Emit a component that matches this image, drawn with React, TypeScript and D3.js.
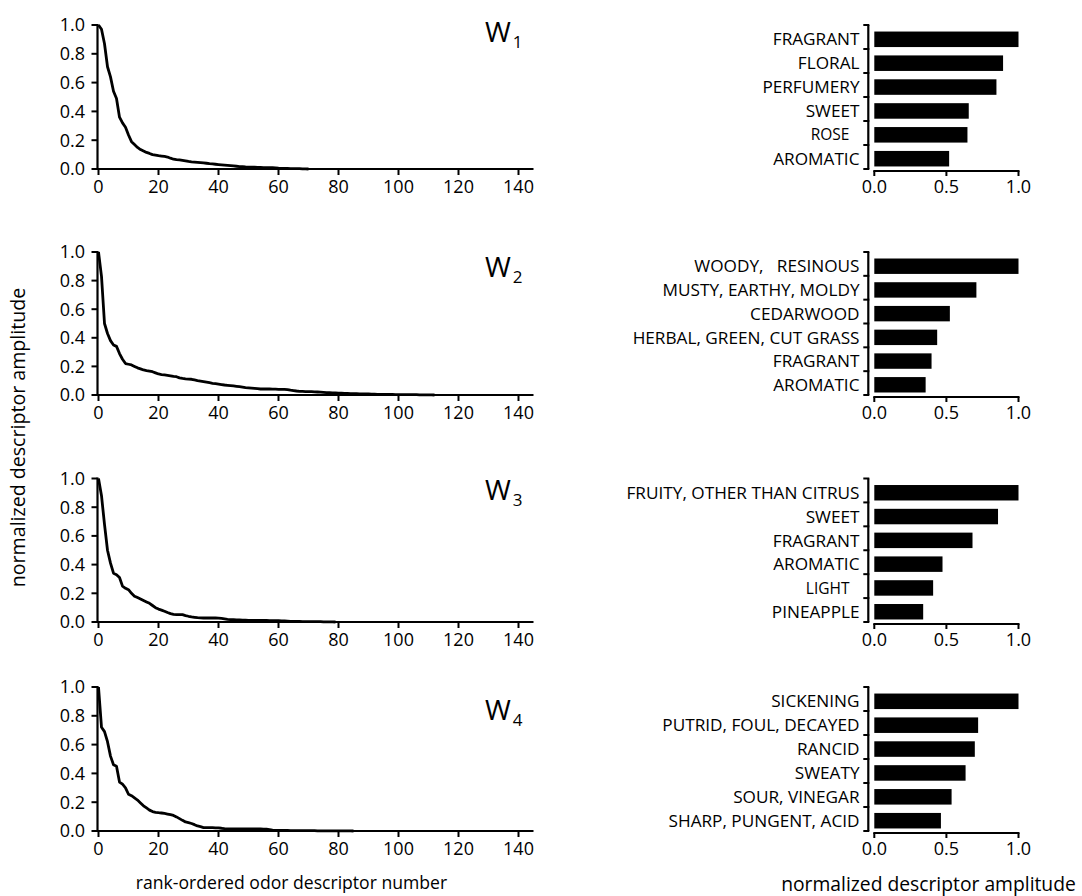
import React from "react";
import * as d3 from "d3";

// ---------- data ----------
const W_SUBSCRIPTS = ["1", "2", "3", "4"];

const CURVE_W1 = [
  1.0, 0.97, 0.87, 0.71, 0.64, 0.54, 0.49, 0.36, 0.32, 0.29, 0.236, 0.19, 0.17, 0.15, 0.135, 0.125,
  0.115, 0.108, 0.1, 0.097, 0.093, 0.09, 0.087, 0.083, 0.075, 0.068, 0.065, 0.063, 0.06, 0.057, 0.053,
  0.05, 0.048, 0.046, 0.044, 0.042, 0.04, 0.037, 0.035, 0.033, 0.031, 0.029, 0.027, 0.025, 0.023, 0.021,
  0.019, 0.017, 0.016, 0.014, 0.013, 0.012, 0.012, 0.011, 0.011, 0.01, 0.01, 0.009, 0.009, 0.008, 0.006,
  0.005, 0.004, 0.004, 0.003, 0.003, 0.002, 0.002, 0.001, 0.001, 0.0,
];

const CURVE_W2 = [
  1.0, 0.83, 0.5, 0.43, 0.38, 0.35, 0.34, 0.29, 0.25, 0.22, 0.215, 0.21, 0.2, 0.19, 0.183, 0.175, 0.17,
  0.167, 0.163, 0.155, 0.147, 0.143, 0.14, 0.137, 0.134, 0.13, 0.128, 0.12, 0.116, 0.113, 0.111, 0.11,
  0.105, 0.1, 0.097, 0.094, 0.09, 0.086, 0.082, 0.079, 0.076, 0.073, 0.07, 0.068, 0.066, 0.064, 0.061,
  0.058, 0.055, 0.052, 0.05, 0.048, 0.046, 0.044, 0.042, 0.042, 0.042, 0.042, 0.041, 0.041, 0.04, 0.04,
  0.04, 0.038, 0.034, 0.031, 0.028, 0.026, 0.025, 0.024, 0.023, 0.023, 0.022, 0.021, 0.02, 0.019, 0.017,
  0.016, 0.015, 0.014, 0.013, 0.013, 0.012, 0.011, 0.01, 0.009, 0.009, 0.008, 0.008, 0.007, 0.007, 0.006,
  0.006, 0.005, 0.005, 0.005, 0.004, 0.004, 0.004, 0.003, 0.003, 0.003, 0.003, 0.002, 0.002, 0.002, 0.002,
  0.001, 0.001, 0.001, 0.001, 0.001, 0.0,
];

const CURVE_W3 = [
  1.0, 0.88, 0.68, 0.5, 0.41, 0.34, 0.33, 0.31, 0.25, 0.235, 0.225, 0.2, 0.18, 0.17, 0.16, 0.15, 0.14,
  0.13, 0.115, 0.1, 0.09, 0.083, 0.075, 0.066, 0.058, 0.053, 0.052, 0.052, 0.051, 0.045, 0.04, 0.036,
  0.033, 0.03, 0.029, 0.028, 0.028, 0.028, 0.028, 0.028, 0.027, 0.025, 0.022, 0.019, 0.017, 0.016, 0.015,
  0.014, 0.013, 0.013, 0.012, 0.012, 0.012, 0.012, 0.011, 0.011, 0.011, 0.01, 0.01, 0.01, 0.01, 0.008,
  0.007, 0.006, 0.005, 0.005, 0.004, 0.004, 0.003, 0.003, 0.003, 0.002, 0.002, 0.002, 0.002, 0.001, 0.001,
  0.001, 0.001, 0.0,
];

const CURVE_W4 = [
  1.0, 0.72, 0.69, 0.62, 0.52, 0.46, 0.45, 0.34, 0.325, 0.3, 0.255, 0.245, 0.23, 0.215, 0.195, 0.175, 0.16,
  0.145, 0.135, 0.13, 0.127, 0.125, 0.122, 0.118, 0.114, 0.108, 0.098, 0.086, 0.074, 0.063, 0.058, 0.052,
  0.044, 0.035, 0.03, 0.024, 0.023, 0.023, 0.023, 0.022, 0.021, 0.019, 0.016, 0.014, 0.014, 0.014, 0.014,
  0.014, 0.014, 0.014, 0.014, 0.014, 0.014, 0.014, 0.014, 0.013, 0.013, 0.01, 0.006, 0.005, 0.005, 0.004,
  0.004, 0.004, 0.003, 0.003, 0.003, 0.003, 0.002, 0.002, 0.002, 0.002, 0.002, 0.001, 0.001, 0.001, 0.001,
  0.001, 0.001, 0.001, 0.001, 0.001, 0.001, 0.0005, 0.0005, 0.0,
];

const DESC_W1 = ["FRAGRANT", "FLORAL", "PERFUMERY", "SWEET", "ROSE", "AROMATIC"];
const AMP_W1 = [1.0, 0.893, 0.847, 0.655, 0.646, 0.519];

const DESC_W2 = [
  "WOODY,   RESINOUS",
  "MUSTY, EARTHY, MOLDY",
  "CEDARWOOD",
  "HERBAL, GREEN, CUT GRASS",
  "FRAGRANT",
  "AROMATIC",
];
const AMP_W2 = [1.0, 0.708, 0.524, 0.436, 0.397, 0.356];

const DESC_W3 = ["FRUITY, OTHER THAN CITRUS", "SWEET", "FRAGRANT", "AROMATIC", "LIGHT", "PINEAPPLE"];
const AMP_W3 = [1.0, 0.858, 0.681, 0.473, 0.408, 0.339];

const DESC_W4 = [
  "SICKENING",
  "PUTRID, FOUL, DECAYED",
  "RANCID",
  "SWEATY",
  "SOUR, VINEGAR",
  "SHARP, PUNGENT, ACID",
];
const AMP_W4 = [1.0, 0.72, 0.697, 0.633, 0.536, 0.462];

const Y_TICKS = [0, 0.2, 0.4, 0.6, 0.8, 1.0];
const X_TICKS = [0, 20, 40, 60, 80, 100, 120, 140];
const BAR_TICKS = [0, 0.5, 1.0];

const CURVES = [CURVE_W1, CURVE_W2, CURVE_W3, CURVE_W4];
const DESCS = [DESC_W1, DESC_W2, DESC_W3, DESC_W4];
const AMPS = [AMP_W1, AMP_W2, AMP_W3, AMP_W4];

// ---------- layout / style ----------
const PANEL_TOP = [25, 252, 478.5, 687];
const PANEL_BOTTOM = [169, 395, 622, 831];
const W_BASELINE = [42, 277, 500, 720];
const SMALL_LABELS = new Set(["ROSE", "LIGHT"]);
const FONT = "'Open Sans', 'Noto Sans', sans-serif";
const FW = 500;

const fmt1 = d3.format(".1f");

function Panel({ i }: { i: number }) {
  const top = PANEL_TOP[i];
  const bottom = PANEL_BOTTOM[i];
  const y = d3.scaleLinear().domain([0, 1]).range([bottom, top]);
  const x = d3.scaleLinear().domain([0, 140]).range([98.5, 518.5]);
  const curve = CURVES[i];
  const line = d3
    .line<number>()
    .x((_, k) => x(k))
    .y((v) => y(v));

  // right bar chart
  const bx = d3.scaleLinear().domain([0, 1]).range([874.3, 1018.5]);
  const descs = DESCS[i];
  const amps = AMPS[i];
  const band = d3.scaleBand<string>().domain(descs).range([top + 2, bottom + 2]).paddingInner(0.35).paddingOuter(0.19);
  const bracket = d3.scaleBand<string>().domain(descs).range([top, bottom]).padding(0);
  const bracketTicks = [...descs.map((d) => bracket(d) as number), bottom];
  const axisX = 868.3;

  return (
    <g>
      {/* left line chart */}
      <line x1={x(0) - 1} x2={x(0) - 1} y1={top - 1} y2={bottom + 1} stroke="#000" strokeWidth={2.2} />
      <line x1={x(0) - 2} x2={x(145)} y1={bottom} y2={bottom} stroke="#000" strokeWidth={2.2} />
      {Y_TICKS.map((t) => (
        <g key={"yt" + t}>
          <line x1={x(0) - 7} x2={x(0) - 1} y1={y(t)} y2={y(t)} stroke="#000" strokeWidth={2} />
          <text x={85} y={y(t)} dy="0.35em" textAnchor="end" fontSize={18} fontWeight={FW} fontFamily={FONT}>
            {fmt1(t)}
          </text>
        </g>
      ))}
      {X_TICKS.map((t) => (
        <g key={"xt" + t}>
          <line x1={x(t)} x2={x(t)} y1={bottom} y2={bottom + 6} stroke="#000" strokeWidth={2} />
          <text x={x(t)} y={bottom + 24} textAnchor="middle" fontSize={18} fontWeight={FW} fontFamily={FONT}>
            {t}
          </text>
        </g>
      ))}
      <path d={line(curve) || ""} fill="none" stroke="#000" strokeWidth={2.8} strokeLinejoin="round" />
      <text x={485} y={W_BASELINE[i]} fontSize={28} fontWeight={FW} fontFamily={FONT}>
        W
        <tspan fontSize={17} dx={2} dy={6}>
          {W_SUBSCRIPTS[i]}
        </tspan>
      </text>

      {/* right bar chart */}
      <line x1={axisX} x2={axisX} y1={top} y2={bottom} stroke="#000" strokeWidth={2.2} />
      {bracketTicks.map((t, k) => (
        <line key={"bt" + k} x1={axisX - 5} x2={axisX + 1} y1={t} y2={t} stroke="#000" strokeWidth={2} />
      ))}
      {descs.map((d, k) => (
        <g key={"bar" + k}>
          <rect
            x={bx(0)}
            y={band(d) as number}
            width={bx(amps[k]) - bx(0)}
            height={band.bandwidth()}
            fill="#000"
          />
          <text
            x={SMALL_LABELS.has(d) ? 849.5 : 859.5}
            y={(band(d) as number) + band.bandwidth() / 2}
            dy="0.36em"
            textAnchor="end"
            fontSize={SMALL_LABELS.has(d) ? 15.5 : 17.2}
            fontWeight={FW}
            fontFamily={FONT}
            style={{ whiteSpace: "pre" }}
          >
            {d}
          </text>
        </g>
      ))}
      <line x1={bx(0) - 1} x2={bx(1) + 1} y1={bottom + 2} y2={bottom + 2} stroke="#000" strokeWidth={2.2} />
      {BAR_TICKS.map((t) => (
        <g key={"bxt" + t}>
          <line x1={bx(t)} x2={bx(t)} y1={bottom + 2} y2={bottom + 7} stroke="#000" strokeWidth={2} />
          <text x={bx(t)} y={bottom + 24} textAnchor="middle" fontSize={18} fontWeight={FW} fontFamily={FONT}>
            {fmt1(t)}
          </text>
        </g>
      ))}
    </g>
  );
}

export default function App() {
  return (
    <svg
      width={1082}
      height={896}
      viewBox="0 0 1082 896"
      style={{ position: "absolute", left: 0, top: 0, background: "#fff" }}
    >
      <rect x={0} y={0} width={1082} height={896} fill="#fff" />
      {[0, 1, 2, 3].map((i) => (
        <Panel key={i} i={i} />
      ))}
      <text
        transform="translate(25,437.5) rotate(-90)"
        textAnchor="middle"
        fontSize={19.6}
        fontWeight={FW}
        fontFamily={FONT}
      >
        normalized descriptor amplitude
      </text>
      <text x={291.5} y={889} textAnchor="middle" fontSize={17.6} fontWeight={FW} fontFamily={FONT}>
        rank-ordered odor descriptor number
      </text>
      <text x={928.5} y={891} textAnchor="middle" fontSize={19.3} fontWeight={FW} fontFamily={FONT}>
        normalized descriptor amplitude
      </text>
    </svg>
  );
}
